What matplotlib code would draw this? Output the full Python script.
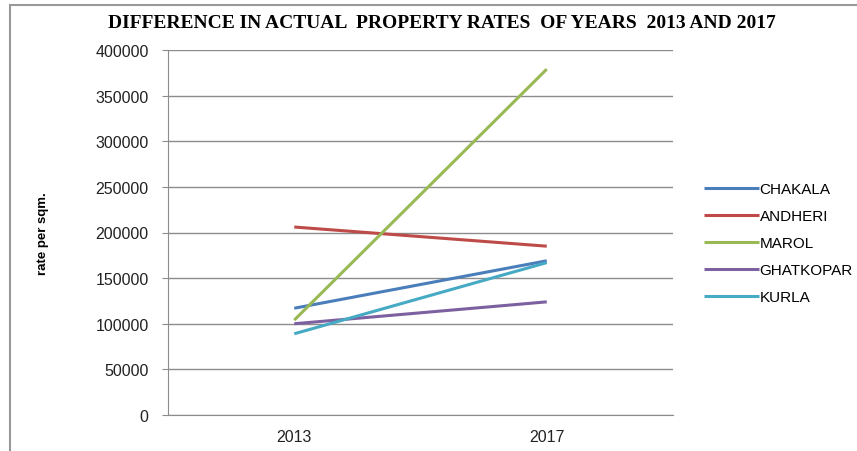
import numpy as np
import matplotlib.pyplot as plt
from matplotlib.patches import Rectangle

# data
years = ['2013', '2017']
chakala = [117000, 169000]
andheri = [206000, 185000]
marol = [104000, 379000]
ghatkopar = [100000, 124000]
kurla = [89000, 167000]

names = ['CHAKALA', 'ANDHERI', 'MAROL', 'GHATKOPAR', 'KURLA']
colors = ['#4a7ebb', '#be4b48', '#98b954', '#7d60a0', '#46aac5']
series = [chakala, andheri, marol, ghatkopar, kurla]

fig = plt.figure(figsize=(8.57, 4.52), dpi=100)
ax = fig.add_axes([168/857, 36/452, (673-168)/857, (416-51)/452])

x = np.arange(len(years))
for s, n, c in zip(series, names, colors):
    ax.plot(x, s, color=c, lw=2.2, label=n, solid_capstyle='butt')

ax.set_xlim(-0.5, 1.5)
ax.set_ylim(0, 400000)
ax.set_yticks(np.arange(0, 400001, 50000))
ax.set_xticks(x)
ax.set_xticklabels(years)
ax.yaxis.grid(True, color='#8c8c8c', lw=1)
ax.set_axisbelow(True)
for sp in ['top', 'right']:
    ax.spines[sp].set_visible(False)
for sp in ['left', 'bottom']:
    ax.spines[sp].set_color('#8c8c8c')
ax.tick_params(axis='y', length=4, color='#8c8c8c', labelsize=11.5,
               labelcolor='#222222', pad=10)
ax.tick_params(axis='x', length=0, labelsize=11.5, labelcolor='#222222', pad=10)
for lab in ax.get_xticklabels() + ax.get_yticklabels():
    lab.set_family('Liberation Sans')

fig.text(43/857, 1 - 234/452, 'rate per sqm.', rotation=90, ha='center',
         va='center', fontsize=9.5, fontweight='bold', family='Liberation Sans')
fig.text(442/857, 1 - 24/452,
         'DIFFERENCE IN ACTUAL  PROPERTY RATES  OF YEARS  2013 AND 2017',
         ha='center', va='center', fontsize=14, fontweight='bold',
         family='Liberation Serif')

ax.legend(loc='center left', bbox_to_anchor=(690/857, 1 - 244/452),
          bbox_transform=fig.transFigure, frameon=False, handlelength=3.6,
          handletextpad=0.05, labelspacing=0.85,
          prop={'family': 'Liberation Sans', 'size': 11})

# outer chart border (left and top visible)
fig.patches.append(Rectangle((10/857, -0.1), 1.2, 1.1 - 6/452, fill=False,
                             edgecolor='#999999', lw=1.5,
                             transform=fig.transFigure, figure=fig))

fig.savefig('out.png', dpi=100)
